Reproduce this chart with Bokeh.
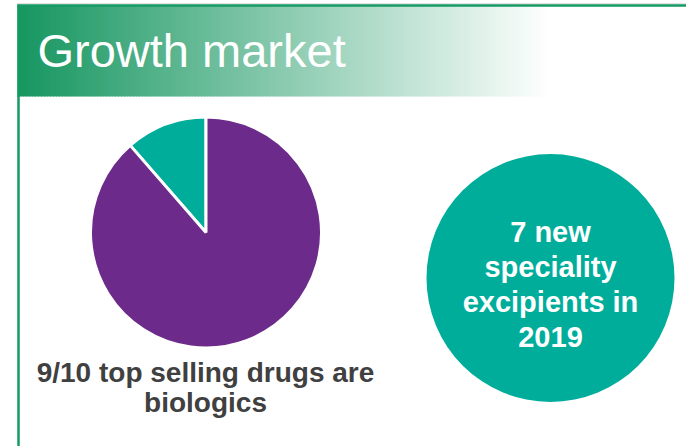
import numpy as np
from bokeh.plotting import figure
from bokeh.models import Range1d, ColumnDataSource
from bokeh.core.properties import value
from bokeh.embed import file_html
from bokeh.resources import INLINE

# ---- data ----
title_text = "Growth market"
pie_labels = ["Other drugs", "Biologics"]
pie_values = [11.4, 88.6]
pie_colors = ["#00AD9B", "#6C2B8A"]
pie_caption = ["9/10 top selling drugs are", "biologics"]
circle_lines = ["7 new", "speciality", "excipients in", "2019"]

W, H = 686, 446
def Y(px):
    return H - px

p = figure(width=W, height=H, output_backend="svg", toolbar_location=None,
           x_range=Range1d(0, W), y_range=Range1d(0, H), min_border=0)
p.axis.visible = False
p.grid.visible = False
p.outline_line_color = None
p.background_fill_color = "white"
p.border_fill_color = "white"

# ---- banner gradient (styling) ----
x0, x1 = 17, 550
n = 180
edges = np.linspace(x0, x1, n + 1)
c0 = np.array([22, 150, 96])
c1 = np.array([255, 255, 255])
cols = []
for i in range(n):
    f = (i + 0.5) / n
    c = (c0 + (c1 - c0) * f).round().astype(int)
    cols.append("#%02x%02x%02x" % tuple(c))
p.quad(left=edges[:-1], right=edges[1:] + 0.8, top=Y(5), bottom=Y(96),
       fill_color=cols, line_color=None)

# frame lines
p.line([17, W], [Y(3.3), Y(3.3)], line_color="#d5d5d5", line_width=1)
p.line([17, W], [Y(5), Y(5)], line_color="#169A64", line_width=2.5)
p.line([18, 18], [Y(4), 0], line_color="#169A64", line_width=2.5)

p.text(x=[37], y=[Y(50)], text=[title_text], text_color="white",
       text_font=value("Liberation Sans"), text_font_size="47px",
       text_baseline="middle", text_align="left")

# ---- pie ----
vals = np.array(pie_values, dtype=float)
frac = vals / vals.sum() * 2 * np.pi
start = np.pi / 2 + np.concatenate([[0], np.cumsum(frac)[:-1]])
end = start + frac
src = ColumnDataSource(dict(start=start, end=end, color=pie_colors, label=pie_labels))
p.wedge(x=205.5, y=Y(232), radius=115.5, start_angle="start", end_angle="end",
        fill_color="color", line_color="white", line_width=3, source=src)

cap_y = [Y(372), Y(402)]
p.text(x=[205] * len(pie_caption), y=cap_y, text=pie_caption, text_color="#404040",
       text_font=value("Liberation Sans"), text_font_style="bold", text_font_size="28px",
       text_baseline="middle", text_align="center")

# ---- circle ----
p.circle(x=[550], y=[Y(277.5)], radius=124, fill_color="#00AD9B", line_color=None)
cy = [Y(231.5 + 35 * i) for i in range(len(circle_lines))]
p.text(x=[550] * len(circle_lines), y=cy, text=circle_lines, text_color="white",
       text_font=value("Liberation Sans"), text_font_style="bold", text_font_size="29px",
       text_baseline="middle", text_align="center")

open("out.html", "w").write(file_html(p, INLINE))
